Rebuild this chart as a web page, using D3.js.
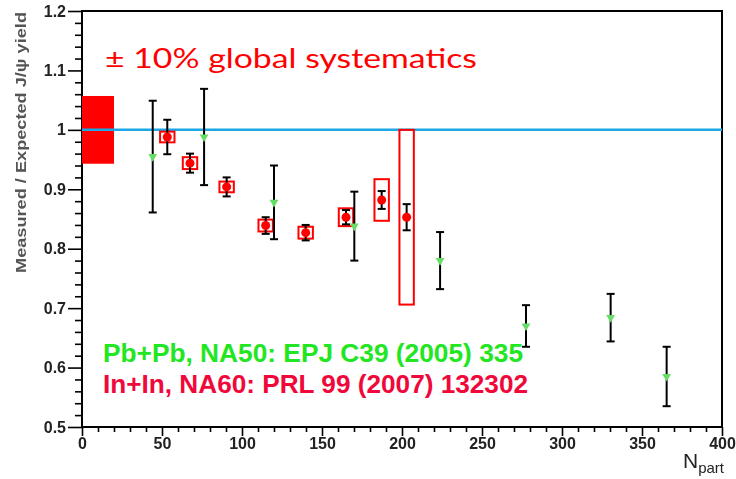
<!DOCTYPE html>
<html>
<head>
<meta charset="utf-8">
<script src="https://cdn.jsdelivr.net/npm/d3@7"></script>
<style>
  html, body { margin: 0; padding: 0; background: #fff; }
  svg { display: block; }
</style>
</head>
<body>
<svg id="chart" width="736" height="479"></svg>
<script>
// Axis ticks
const xMajorTicks = [0, 50, 100, 150, 200, 250, 300, 350, 400];
const yMajorTicks = [0.5, 0.6, 0.7, 0.8, 0.9, 1.0, 1.1, 1.2];
const yTickLabels = ["0.5", "0.6", "0.7", "0.8", "0.9", "1", "1.1", "1.2"];

// Pb+Pb, NA50: centrality, ratio and statistical errors
const pbNpart = [44.2, 76.3, 120.0, 170.2, 223.8, 277.5, 330.4, 365.4];
const pbRatio = [0.955, 0.988, 0.878, 0.838, 0.780, 0.670, 0.684, 0.585];
const pbErr   = [0.094, 0.081, 0.062, 0.058, 0.048, 0.035, 0.040, 0.050];

// In+In, NA60: centrality, ratio, statistical and systematic errors
const inNpart = [53.3, 67.5, 90.4, 114.8, 139.8, 165.0, 187.3, 202.9];
const inRatio = [0.988, 0.944, 0.904, 0.839, 0.827, 0.853, 0.882, 0.853];
const inStat  = [0.029, 0.016, 0.016, 0.014, 0.013, 0.012, 0.015, 0.022];
const inSys   = [0.009, 0.010, 0.009, 0.010, 0.010, 0.015, 0.035, 0.147];
const inSysHalfWidth = 4.5;

// Global normalisation uncertainty band at ratio = 1
const globalBandNpart = [0, 20];
const globalBandRatio = [0.943, 1.057];
const referenceLevel = 1.0;

const svg = d3.select("#chart");
const x = d3.scaleLinear().domain([0, 400]).range([82, 722]);
const y = d3.scaleLinear().domain([0.5, 1.2]).range([427, 11]);

const defs = svg.append("defs");
defs.append("filter").attr("id", "soft")
  .append("feGaussianBlur").attr("stdDeviation", 0.45);

// Frame
svg.append("rect")
  .attr("x", x(0)).attr("y", y(1.2))
  .attr("width", x(400) - x(0)).attr("height", y(0.5) - y(1.2))
  .attr("fill", "none").attr("stroke", "#000").attr("stroke-width", 2);

// Axes with major and minor ticks
const yMinor = d3.range(0.5, 1.2001, 0.02).filter(v => Math.abs(v * 10 - Math.round(v * 10)) > 1e-6);
const xMinor = d3.range(0, 400.1, 10).filter(v => v % 50 !== 0);

const yAxisMinor = d3.axisLeft(y).tickValues(yMinor).tickSize(7).tickFormat("");
const yAxis = d3.axisLeft(y).tickValues(yMajorTicks).tickSize(14).tickPadding(2)
  .tickFormat((d, i) => yTickLabels[i]);
const xAxisMinor = d3.axisBottom(x).tickValues(xMinor).tickSize(5).tickFormat("");
const xAxis = d3.axisBottom(x).tickValues(xMajorTicks).tickSize(9).tickPadding(2)
  .tickFormat(d3.format("d"));

function styleAxis(g) {
  g.select(".domain").remove();
  g.selectAll(".tick line").attr("stroke", "#000").attr("stroke-width", 1.6);
  g.selectAll(".tick text")
    .attr("fill", "#222")
    .attr("font-family", "Liberation Sans, Arial, sans-serif")
    .attr("font-weight", "bold")
    .attr("font-size", 16)
    .attr("filter", "url(#soft)");
}
svg.append("g").attr("transform", `translate(${x(0)},0)`).call(yAxisMinor).call(styleAxis);
svg.append("g").attr("transform", `translate(${x(0)},0)`).call(yAxis).call(styleAxis);
svg.append("g").attr("transform", `translate(0,${y(0.5)})`).call(xAxisMinor).call(styleAxis);
svg.append("g").attr("transform", `translate(0,${y(0.5)})`).call(xAxis).call(styleAxis);

// Axis titles
svg.append("text")
  .attr("transform", `translate(26,12) rotate(-90)`)
  .attr("text-anchor", "end")
  .attr("fill", "#555")
  .attr("font-family", "Liberation Sans, Arial, sans-serif")
  .attr("font-weight", "bold")
  .attr("font-size", 14)
  .attr("textLength", 261)
  .attr("lengthAdjust", "spacingAndGlyphs")
  .attr("filter", "url(#soft)")
  .text("Measured / Expected J/\u03c8 yield");

const xt = svg.append("text")
  .attr("x", 724).attr("y", 468)
  .attr("text-anchor", "end")
  .attr("fill", "#222")
  .attr("font-family", "Liberation Sans, Arial, sans-serif")
  .attr("font-size", 21)
  .attr("filter", "url(#soft)");
xt.append("tspan").text("N");
xt.append("tspan").attr("dy", 5).attr("font-size", 15).text("part");

// Global uncertainty band
svg.append("rect")
  .attr("x", x(globalBandNpart[0]))
  .attr("y", y(globalBandRatio[1]))
  .attr("width", x(globalBandNpart[1]) - x(globalBandNpart[0]))
  .attr("height", y(globalBandRatio[0]) - y(globalBandRatio[1]))
  .attr("fill", "#ff0000");

// Reference line at unity
svg.append("line")
  .attr("x1", x(0)).attr("x2", x(400))
  .attr("y1", y(referenceLevel)).attr("y2", y(referenceLevel))
  .attr("stroke", "#1aa8e6").attr("stroke-width", 2.5);

// Error bar helper
function errorBars(g, xs, ys, es) {
  const cap = 4;
  const bars = g.selectAll("g.err").data(xs.map((d, i) => ({ n: d, v: ys[i], e: es[i] })))
    .join("g").attr("class", "err")
    .attr("stroke", "#000").attr("stroke-width", 2);
  bars.append("line")
    .attr("x1", d => x(d.n)).attr("x2", d => x(d.n))
    .attr("y1", d => y(d.v + d.e)).attr("y2", d => y(d.v - d.e));
  bars.append("line")
    .attr("x1", d => x(d.n) - cap).attr("x2", d => x(d.n) + cap)
    .attr("y1", d => y(d.v + d.e)).attr("y2", d => y(d.v + d.e));
  bars.append("line")
    .attr("x1", d => x(d.n) - cap).attr("x2", d => x(d.n) + cap)
    .attr("y1", d => y(d.v - d.e)).attr("y2", d => y(d.v - d.e));
}

// In+In systematic boxes
const inG = svg.append("g");
inG.selectAll("rect.sys").data(inNpart.map((d, i) => ({ n: d, v: inRatio[i], s: inSys[i] })))
  .join("rect").attr("class", "sys")
  .attr("x", d => x(d.n - inSysHalfWidth))
  .attr("width", d => x(d.n + inSysHalfWidth) - x(d.n - inSysHalfWidth))
  .attr("y", d => y(d.v + d.s))
  .attr("height", d => y(d.v - d.s) - y(d.v + d.s))
  .attr("fill", "none").attr("stroke", "#ff0000").attr("stroke-width", 2);

errorBars(inG, inNpart, inRatio, inStat);

inG.selectAll("circle.pt").data(inNpart.map((d, i) => ({ n: d, v: inRatio[i] })))
  .join("circle").attr("class", "pt")
  .attr("cx", d => x(d.n)).attr("cy", d => y(d.v))
  .attr("r", 4.5).attr("fill", "#ff0000");

// Pb+Pb points
const pbG = svg.append("g");
errorBars(pbG, pbNpart, pbRatio, pbErr);
const tri = d3.symbol().type(d3.symbolTriangle).size(34);
pbG.selectAll("path.pt").data(pbNpart.map((d, i) => ({ n: d, v: pbRatio[i] })))
  .join("path").attr("class", "pt")
  .attr("d", tri)
  .attr("transform", d => `translate(${x(d.n)},${y(d.v)}) rotate(180)`)
  .attr("fill", "#66dd66");

// Annotations
svg.append("text")
  .attr("x", 105).attr("y", 68)
  .attr("fill", "#ff0000")
  .attr("font-family", "Lato, 'Open Sans', sans-serif")
  .attr("font-size", 26)
  .attr("textLength", 372)
  .attr("lengthAdjust", "spacingAndGlyphs")
  .text("\u00b1 10% global systematics");

svg.append("text")
  .attr("x", 103).attr("y", 362)
  .attr("fill", "#22e622")
  .attr("font-family", "Liberation Sans, Arial, sans-serif")
  .attr("font-weight", "bold")
  .attr("font-size", 25)
  .attr("textLength", 420)
  .attr("lengthAdjust", "spacingAndGlyphs")
  .text("Pb+Pb, NA50: EPJ C39 (2005) 335");

svg.append("text")
  .attr("x", 103).attr("y", 393)
  .attr("fill", "#f0083a")
  .attr("font-family", "Liberation Sans, Arial, sans-serif")
  .attr("font-weight", "bold")
  .attr("font-size", 25)
  .attr("textLength", 425)
  .attr("lengthAdjust", "spacingAndGlyphs")
  .text("In+In, NA60: PRL 99 (2007) 132302");
</script>
</body>
</html>
